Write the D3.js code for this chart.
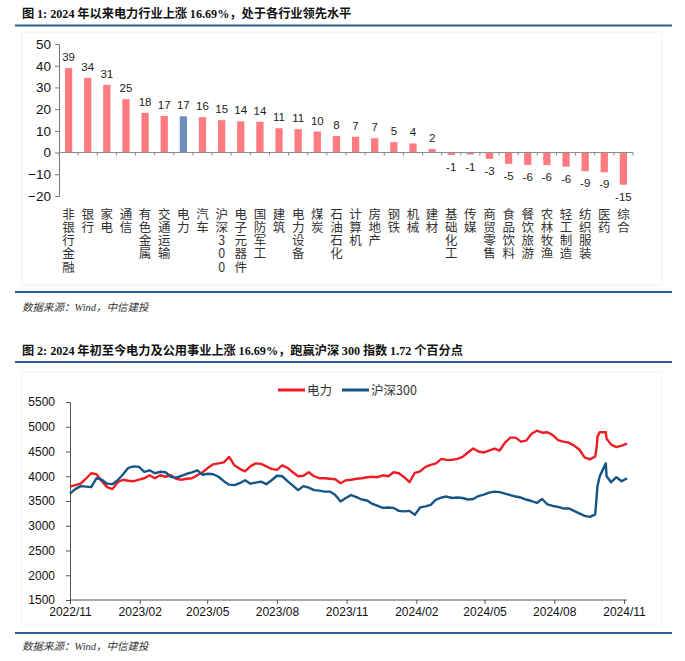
<!DOCTYPE html>
<html><head><meta charset="utf-8">
<script src="https://cdn.jsdelivr.net/npm/d3@7"></script>
<style>body{margin:0;background:#fff} svg{display:block}</style>
</head><body>
<svg id="c" width="685" height="661"></svg>
<script>
// ---------- Chart 1 data ----------
const categories = ["非银行金融","银行","家电","通信","有色金属","交通运输","电力","汽车","沪深300","电子元器件","国防军工","建筑","电力设备","煤炭","石油石化","计算机","房地产","钢铁","机械","建材","基础化工","传媒","商贸零售","食品饮料","餐饮旅游","农林牧渔","轻工制造","纺织服装","医药","综合"];
const changes = [38.9,34.4,31.2,24.6,18.3,16.9,16.69,16.3,14.9,14.4,14.2,11.2,10.8,9.7,7.6,7.3,6.6,4.8,4.2,1.6,-1.1,-0.9,-2.9,-5.2,-5.7,-5.7,-6.5,-8.6,-9.1,-14.8];
const highlight = "电力";
const barYTicks = [-20,-10,0,10,20,30,40,50];

// ---------- Chart 2 data ----------
const dates = ["2022-11-01","2022-11-08","2022-11-15","2022-11-22","2022-11-29","2022-12-06","2022-12-13","2022-12-20","2022-12-27",
"2023-01-03","2023-01-10","2023-01-17","2023-01-24","2023-01-31","2023-02-07","2023-02-14","2023-02-21","2023-02-28",
"2023-03-07","2023-03-14","2023-03-21","2023-03-28","2023-04-04","2023-04-11","2023-04-18","2023-04-25",
"2023-05-02","2023-05-09","2023-05-16","2023-05-23","2023-05-30","2023-06-06","2023-06-13","2023-06-20","2023-06-27",
"2023-07-04","2023-07-11","2023-07-18","2023-07-25","2023-08-01","2023-08-08","2023-08-15","2023-08-22","2023-08-29",
"2023-09-05","2023-09-12","2023-09-19","2023-09-26","2023-10-03","2023-10-10","2023-10-17","2023-10-24","2023-10-31",
"2023-11-07","2023-11-14","2023-11-21","2023-11-28","2023-12-05","2023-12-12","2023-12-19","2023-12-26",
"2024-01-02","2024-01-09","2024-01-16","2024-01-23","2024-01-30","2024-02-06","2024-02-13","2024-02-20","2024-02-27",
"2024-03-05","2024-03-12","2024-03-19","2024-03-26","2024-04-02","2024-04-09","2024-04-16","2024-04-23","2024-04-30",
"2024-05-07","2024-05-14","2024-05-21","2024-05-28","2024-06-04","2024-06-11","2024-06-18","2024-06-25",
"2024-07-02","2024-07-09","2024-07-16","2024-07-23","2024-07-30","2024-08-06","2024-08-13","2024-08-20","2024-08-27",
"2024-09-03","2024-09-10","2024-09-17","2024-09-24","2024-09-26","2024-09-27","2024-09-30","2024-10-08","2024-10-09",
"2024-10-15","2024-10-22","2024-10-29","2024-11-05"];
const powerIndex = [3790,3820,3850,3950,4060,4040,3900,3780,3740,
3880,3930,3910,3900,3930,3960,4020,3960,4020,
3990,4020,3950,3930,3950,3960,4020,4080,
4170,4240,4260,4280,4390,4220,4150,4100,4200,
4260,4250,4200,4150,4130,4220,4170,4080,4000,
4010,4080,4000,3960,3960,3950,3940,3860,3920,
3930,3950,3960,3980,3990,3980,4020,4000,
4080,4060,3980,3880,4070,4100,4190,4230,4260,
4350,4330,4330,4350,4390,4480,4560,4500,4480,
4520,4560,4520,4680,4780,4780,4700,4720,
4860,4920,4880,4890,4830,4730,4700,4680,4620,
4540,4380,4340,4400,4600,4800,4890,4890,4760,
4640,4590,4620,4660];
const csi300 = [3650,3740,3800,3790,3780,3960,3930,3850,3840,
3920,4040,4170,4200,4190,4090,4120,4060,4090,
4080,3990,3970,4010,4050,4080,4120,4030,
4050,4040,3990,3900,3830,3820,3860,3920,3850,
3870,3890,3840,3920,4010,4000,3900,3810,3720,
3800,3770,3720,3710,3690,3690,3620,3490,3560,
3620,3580,3530,3510,3440,3400,3360,3370,
3360,3300,3290,3300,3220,3370,3390,3420,3530,
3570,3590,3560,3570,3560,3530,3540,3600,3630,
3670,3690,3680,3650,3620,3590,3570,3530,
3500,3460,3540,3430,3400,3380,3350,3350,3300,
3250,3200,3180,3230,3600,3800,4000,4260,4000,
3880,3980,3900,3960];
const seriesNames = ["电力","沪深300"];
const lineYTicks = [1500,2000,2500,3000,3500,4000,4500,5000,5500];
const lineXTicks = ["2022/11","2023/02","2023/05","2023/08","2023/11","2024/02","2024/05","2024/08","2024/11"];

// ---------- drawing ----------
const svg = d3.select("#c");
const CJK = "'Noto Sans CJK SC', sans-serif";
const SERIF = "'Liberation Serif', 'Times New Roman', serif";
const SANS = "'Liberation Sans', Arial, sans-serif";
const ruleColor = "#2c5f8d";

function title(y, parts) {
  const t = svg.append("text").attr("x", 22).attr("y", y).attr("font-size", 12.2)
    .attr("font-weight", "bold").attr("fill", "#111");
  parts.forEach(p => t.append("tspan").attr("font-family", p[1] ? SERIF : CJK).text(p[0]));
}
function rule(y) {
  svg.append("line").attr("x1", 15).attr("x2", 672).attr("y1", y).attr("y2", y)
    .attr("stroke", ruleColor).attr("stroke-width", 2);
}
function source(y) {
  const t = svg.append("text").attr("x", 22).attr("y", y).attr("font-size", 10.5)
    .attr("font-style", "italic").attr("fill", "#333");
  t.append("tspan").attr("font-family", CJK).text("数据来源：");
  t.append("tspan").attr("font-family", SERIF).text("Wind");
  t.append("tspan").attr("font-family", CJK).text("，中信建投");
}

// Chart 1
title(18, [["图 ",0],["1: 2024",1],[" 年以来电力行业上涨 ",0],["16.69%",1],["，处于各行业领先水平",0]]);
rule(25.5);
svg.append("rect").attr("x", 22).attr("y", 32).attr("width", 640).attr("height", 253)
  .attr("fill", "none").attr("stroke", "#f0f0f0");

const xb = d3.scaleBand().domain(categories).range([59, 633]).paddingInner(0.62).paddingOuter(0.31);
const yb = d3.scaleLinear().domain([-20, 50]).range([196, 44]);
const g1 = svg.append("g");

const yAx = g1.append("g").attr("transform", "translate(59,0)")
  .call(d3.axisLeft(yb).tickValues(barYTicks).tickSize(4).tickPadding(4));
yAx.selectAll("path,line").attr("stroke", "#777");
yAx.selectAll("text").attr("font-family", SANS).attr("font-size", 13.5).attr("fill", "#111");

g1.selectAll("rect.bar").data(categories).join("rect").attr("class", "bar")
  .attr("x", d => xb(d)).attr("width", xb.bandwidth())
  .attr("y", (d, i) => yb(Math.max(0, changes[i])))
  .attr("height", (d, i) => Math.abs(yb(changes[i]) - yb(0)))
  .attr("fill", d => d === highlight ? "#6f8dbb" : "#ff7b7f");

const step = xb.step();
g1.append("line").attr("x1", 59).attr("x2", 633).attr("y1", yb(0)).attr("y2", yb(0)).attr("stroke", "#888");
g1.selectAll("line.bt").data(d3.range(categories.length + 1)).join("line").attr("class", "bt")
  .attr("x1", i => 59 + i * step).attr("x2", i => 59 + i * step)
  .attr("y1", yb(0)).attr("y2", yb(0) + 3).attr("stroke", "#888");

g1.selectAll("text.val").data(categories).join("text").attr("class", "val")
  .attr("x", d => xb(d) + xb.bandwidth() / 2)
  .attr("y", (d, i) => changes[i] >= 0 ? yb(changes[i]) - 7 : yb(changes[i]) + 16)
  .attr("text-anchor", "middle").attr("font-family", SANS).attr("font-size", 11.5).attr("fill", "#222")
  .text((d, i) => Math.round(changes[i]));

// vertical category labels: one vertical text per category
g1.selectAll("text.cat").data(categories).join("text").attr("class", "cat")
  .attr("x", d => xb(d) + xb.bandwidth() / 2).attr("y", 207.5)
  .style("writing-mode", "vertical-rl").style("text-orientation", "upright")
  .attr("letter-spacing", 0.8)
  .attr("font-family", CJK).attr("font-size", 12.5).attr("fill", "#333")
  .text(d => d);

rule(292);
source(311);

// Chart 2
title(355, [["图 ",0],["2: 2024",1],[" 年初至今电力及公用事业上涨 ",0],["16.69%",1],["，跑赢沪深 ",0],["300",1],[" 指数 ",0],["1.72",1],[" 个百分点",0]]);
rule(362);
svg.append("rect").attr("x", 22).attr("y", 372).attr("width", 640).attr("height", 252)
  .attr("fill", "none").attr("stroke", "#f2f2f2");

const parse = d3.timeParse("%Y-%m-%d");
const xt = d3.scaleTime().domain([parse("2022-11-01"), parse("2024-11-01")]).range([70, 624]);
const yl = d3.scaleLinear().domain([1500, 5500]).range([600, 402]);
const g2 = svg.append("g");

const yAx2 = g2.append("g").attr("transform", "translate(70,0)")
  .call(d3.axisLeft(yl).tickValues(lineYTicks).tickFormat(d3.format("d")).tickSize(4).tickPadding(11));
yAx2.selectAll("path,line").attr("stroke", "#555");
yAx2.selectAll("text").attr("font-family", SANS).attr("font-size", 12).attr("fill", "#111");

const tickDates = lineXTicks.map(s => d3.timeParse("%Y/%m")(s));
const xAx2 = g2.append("g").attr("transform", "translate(0,600)")
  .call(d3.axisBottom(xt).tickValues(tickDates).tickFormat(d3.timeFormat("%Y/%m")).tickSize(4).tickPadding(3));
xAx2.select(".domain").attr("d", "M70,0H627");
xAx2.selectAll("path,line").attr("stroke", "#555");
xAx2.selectAll("text").attr("font-family", SANS).attr("font-size", 12).attr("fill", "#111");

const pts = dates.map(parse);
const colors = ["#ee1c24", "#155585"];
[powerIndex, csi300].forEach((vals, k) => {
  const line = d3.line().x((d, i) => xt(pts[i])).y(d => yl(d)).curve(d3.curveLinear);
  g2.append("path").datum(vals).attr("d", line).attr("fill", "none")
    .attr("stroke", colors[k]).attr("stroke-width", 2.4).attr("stroke-linejoin", "round");
});

// legend
const legX = [278, 342];
seriesNames.forEach((n, k) => {
  svg.append("line").attr("x1", legX[k]).attr("x2", legX[k] + 27).attr("y1", 390).attr("y2", 390)
    .attr("stroke", colors[k]).attr("stroke-width", 3);
  svg.append("text").attr("x", legX[k] + 29).attr("y", 390).attr("dy", "0.36em")
    .attr("font-family", CJK).attr("font-size", 12.5).attr("fill", "#333").text(n);
});

rule(633);
source(650);
</script>
</body></html>
